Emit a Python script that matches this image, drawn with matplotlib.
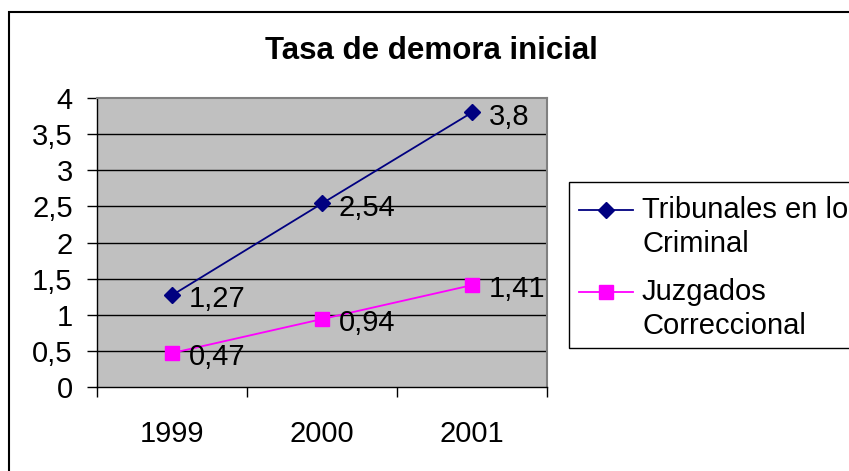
import matplotlib
matplotlib.use("Agg")
import matplotlib.pyplot as plt
from matplotlib.patches import Rectangle
from matplotlib.lines import Line2D

plt.rcParams['font.family'] = ['Liberation Sans', 'DejaVu Sans']

years = ["1999", "2000", "2001"]
tribunales = [1.27, 2.54, 3.8]
juzgados = [0.47, 0.94, 1.41]
trib_labels = ["1,27", "2,54", "3,8"]
juzg_labels = ["0,47", "0,94", "1,41"]
yticks = [0, 0.5, 1, 1.5, 2, 2.5, 3, 3.5, 4]
ytick_labels = ["0", "0,5", "1", "1,5", "2", "2,5", "3", "3,5", "4"]
series_names = [("Tribunales en lo", "Criminal"), ("Juzgados", "Correccional")]
series_colors = ['#000080', '#FF00FF']
series_markers = ['D', 's']
series_msize = [8, 9.5]

W, H = 849, 471
FS = 21
fig = plt.figure(figsize=(W / 100, H / 100), dpi=100)
fig.patch.set_facecolor('white')

def fx(px):
    return px / W

def fy(py):
    return 1 - py / H

# outer border
fig.patches.append(Rectangle((fx(9), -0.05), 1.2, fy(12) + 0.05, transform=fig.transFigure,
                             fill=False, edgecolor='black', linewidth=1.5, zorder=0))

ax = fig.add_axes([fx(97), fy(387), 450 / W, 289 / H])
ax.set_facecolor('#C0C0C0')
x = list(range(len(years)))
ax.set_xlim(-0.5, 2.5)
ax.set_ylim(0, 4)

for yv in yticks[1:-1]:
    ax.axhline(yv, color='black', linewidth=1, zorder=1)

for vals, labs, col, mk, ms in [(tribunales, trib_labels, series_colors[0], series_markers[0], series_msize[0]),
                                (juzgados, juzg_labels, series_colors[1], series_markers[1], series_msize[1])]:
    ax.plot(x, vals, color=col, marker=mk, markersize=ms, linewidth=1.3, zorder=3)
    for xi, yv, lab in zip(x, vals, labs):
        ax.annotate(lab, (xi, yv), xytext=(12, -3), textcoords='offset points', va='center',
                    ha='left', fontsize=FS, zorder=4)

ax.set_yticks(yticks)
ax.set_yticklabels(ytick_labels, fontsize=FS)
ax.tick_params(axis='y', direction='out', length=7.5, width=1, pad=10)

ax.set_xticks([-0.5, 0.5, 1.5, 2.5])
ax.set_xticklabels([])
ax.tick_params(axis='x', which='major', direction='out', length=7.5, width=1)
ax.set_xticks(x, minor=True)
ax.set_xticklabels(years, minor=True, fontsize=FS)
ax.tick_params(axis='x', which='minor', length=0, pad=24)

for side in ['top', 'right']:
    ax.spines[side].set_color('#808080')
    ax.spines[side].set_linewidth(1.5)
for side in ['left', 'bottom']:
    ax.spines[side].set_color('black')
    ax.spines[side].set_linewidth(1)

fig.text(fx(431), fy(51), 'Tasa de demora inicial', ha='center', va='center',
         fontsize=22.5, fontweight='bold')

# legend (manual, Excel-style: handle aligned with first line)
fig.patches.append(Rectangle((fx(569), fy(348)), 1.0, fy(182) - fy(348), transform=fig.transFigure,
                             facecolor='white', edgecolor='black', linewidth=1, zorder=5))
entry_y = [210, 292]
for (l1, l2), col, mk, ms, ey in zip(series_names, series_colors, series_markers, series_msize, entry_y):
    fig.add_artist(Line2D([fx(579), fx(633)], [fy(ey), fy(ey)], transform=fig.transFigure,
                          color=col, linewidth=1.3, zorder=6))
    fig.add_artist(Line2D([fx(606)], [fy(ey)], transform=fig.transFigure, color=col,
                          marker=mk, markersize=ms, linestyle='none', zorder=7))
    fig.text(fx(642), fy(ey), l1, ha='left', va='center', fontsize=FS, zorder=7)
    fig.text(fx(642), fy(ey + 34), l2, ha='left', va='center', fontsize=FS, zorder=7)

fig.savefig('out.png', dpi=100)
